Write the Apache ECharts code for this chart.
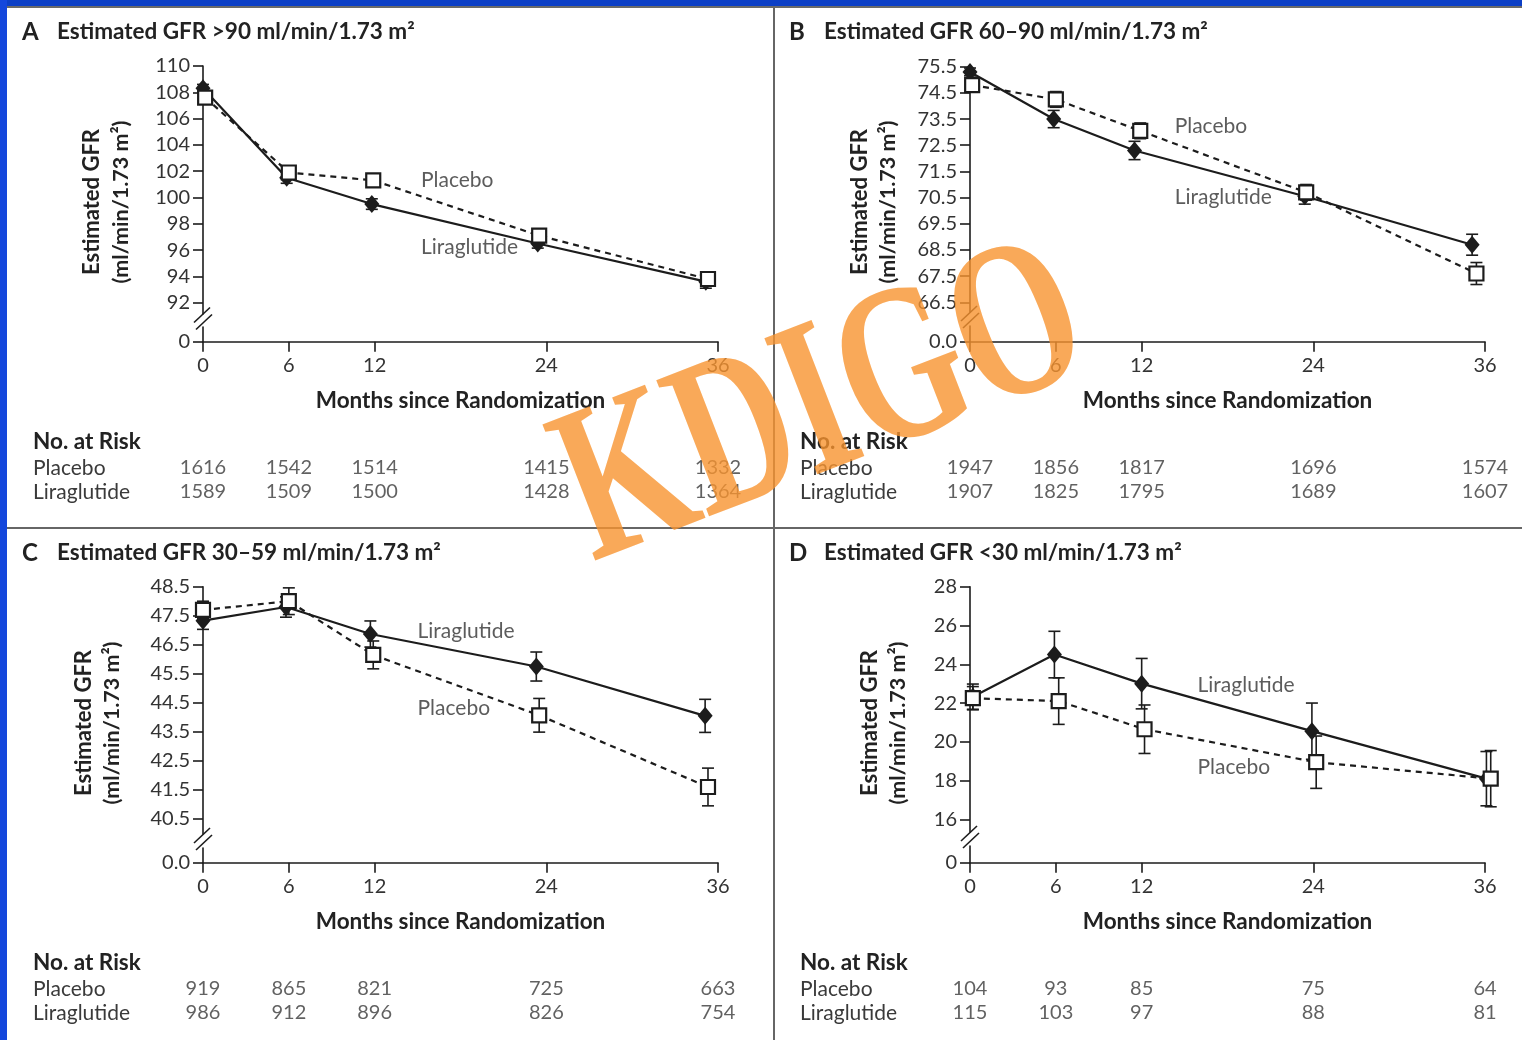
<!DOCTYPE html>
<html><head><meta charset="utf-8">
<script src="https://cdn.jsdelivr.net/npm/echarts@6/dist/echarts.min.js"></script>
<style>html,body{margin:0;padding:0;background:#fff}#c{width:1522px;height:1040px}</style>
</head><body><div id="c"></div>
<script>
// ---------- DATA ----------
const months = [0, 6, 12, 24, 36];
const riskRows = ['Placebo', 'Liraglutide'];

// Panel A
const titleA = 'Estimated GFR >90 ml/min/1.73 m²';
const yTicksA = [92, 94, 96, 98, 100, 102, 104, 106, 108, 110];
const liraXA = [0, 5.85, 11.8, 23.4, 35.15];
const liraA = [108.3, 101.5, 99.5, 96.5, 93.6];
const liraErrA = [0.3, 0.42, 0.4, 0.35, 0.5];
const placXA = [0.15, 6, 11.9, 23.5, 35.3];
const placA = [107.6, 101.9, 101.3, 97.1, 93.8];
const placErrA = [0.3, 0.3, 0.3, 0.3, 0.3];
const riskPlacA = [1616, 1542, 1514, 1415, 1332];
const riskLiraA = [1589, 1509, 1500, 1428, 1364];

// Panel B
const titleB = 'Estimated GFR 60–90 ml/min/1.73 m²';
const yTicksB = [66.5, 67.5, 68.5, 69.5, 70.5, 71.5, 72.5, 73.5, 74.5, 75.5];
const liraXB = [0, 5.85, 11.5, 23.4, 35.1];
const liraB = [75.3, 73.5, 72.3, 70.55, 68.7];
const liraErrB = [0.15, 0.33, 0.35, 0.3, 0.4];
const placXB = [0.15, 6, 11.9, 23.5, 35.4];
const placB = [74.8, 74.25, 73.05, 70.7, 67.6];
const placErrB = [0.2, 0.3, 0.3, 0.3, 0.42];
const riskPlacB = [1947, 1856, 1817, 1696, 1574];
const riskLiraB = [1907, 1825, 1795, 1689, 1607];

// Panel C
const titleC = 'Estimated GFR 30–59 ml/min/1.73 m²';
const yTicksC = [40.5, 41.5, 42.5, 43.5, 44.5, 45.5, 46.5, 47.5, 48.5];
const liraXC = [0, 5.8, 11.7, 23.3, 35.1];
const liraC = [47.33, 47.8, 46.87, 45.75, 44.05];
const liraErrC = [0.3, 0.35, 0.45, 0.5, 0.57];
const placXC = [0, 6, 11.9, 23.5, 35.3];
const placC = [47.7, 48.0, 46.15, 44.07, 41.6];
const placErrC = [0.3, 0.46, 0.48, 0.58, 0.65];
const riskPlacC = [919, 865, 821, 725, 663];
const riskLiraC = [986, 912, 896, 826, 754];

// Panel D
const titleD = 'Estimated GFR <30 ml/min/1.73 m²';
const yTicksD = [16, 18, 20, 22, 24, 26, 28];
const liraXD = [0.2, 5.9, 12, 23.9, 36.1];
const liraD = [22.33, 24.5, 23.0, 20.55, 18.1];
const liraErrD = [0.65, 1.2, 1.3, 1.45, 1.4];
const placXD = [0.2, 6.2, 12.2, 24.2, 36.4];
const placD = [22.25, 22.1, 20.65, 18.95, 18.1];
const placErrD = [0.6, 1.2, 1.25, 1.35, 1.45];
const riskPlacD = [104, 93, 85, 75, 64];
const riskLiraD = [115, 103, 97, 88, 81];

// ---------- LAYOUT / STYLE ----------
const FONT = 'Lato';
const INK = '#1c1c1c';
const TXT = '#333';
const W = 515;

const panels = [
  {letter:'A', title:titleA, ticks:yTicksA, zero:'0', dec:0,
   liraX:liraXA, lira:liraA, liraErr:liraErrA, placX:placXA, plac:placA, placErr:placErrA,
   riskPlac:riskPlacA, riskLira:riskLiraA,
   x0:203, yTop:66, breakTop:314, breakBot:327, yZero:341.7, ymin:91.14, ymax:110,
   titleY:32, riskTop:456, textX:33, ynameX:[92,121], ynameY:202,
   ann:[{name:'Placebo', value:[15.2,101.3]},{name:'Liraglutide', value:[15.2,96.2]}]},
  {letter:'B', title:titleB, ticks:yTicksB, zero:'0.0', dec:1,
   liraX:liraXB, lira:liraB, liraErr:liraErrB, placX:placXB, plac:placB, placErr:placErrB,
   riskPlac:riskPlacB, riskLira:riskLiraB,
   x0:970, yTop:66.7, breakTop:312, breakBot:326, yZero:341.7, ymin:66.13, ymax:75.5,
   titleY:32, riskTop:456, textX:800, ynameX:[860,888], ynameY:202,
   ann:[{name:'Placebo', value:[14.27,73.24]},{name:'Liraglutide', value:[14.27,70.53]}]},
  {letter:'C', title:titleC, ticks:yTicksC, zero:'0.0', dec:1,
   liraX:liraXC, lira:liraC, liraErr:liraErrC, placX:placXC, plac:placC, placErr:placErrC,
   riskPlac:riskPlacC, riskLira:riskLiraC,
   x0:203, yTop:586.7, breakTop:834, breakBot:848, yZero:862.7, ymin:39.98, ymax:48.5,
   titleY:553, riskTop:977, textX:33, ynameX:[84,112], ynameY:723,
   ann:[{name:'Liraglutide', value:[14.96,46.97]},{name:'Placebo', value:[14.96,44.32]}]},
  {letter:'D', title:titleD, ticks:yTicksD, zero:'0', dec:0,
   liraX:liraXD, lira:liraD, liraErr:liraErrD, placX:placXD, plac:placD, placErr:placErrD,
   riskPlac:riskPlacD, riskLira:riskLiraD,
   x0:970, yTop:586.7, breakTop:832, breakBot:846, yZero:862.7, ymin:15.35, ymax:28,
   titleY:553, riskTop:977, textX:800, ynameX:[870,898], ynameY:723,
   ann:[{name:'Liraglutide', value:[15.87,22.93]},{name:'Placebo', value:[15.87,18.7]}]}
];

const grids = [], xAxes = [], yAxes = [], series = [], graphics = [];

function errBars(gi, xs, ys, es) {
  return {
    type:'custom', xAxisIndex:gi, yAxisIndex:gi, clip:false, silent:true, z:2,
    data: xs.map((x,i)=>[x, ys[i], es[i]]),
    renderItem:(params, api)=>{
      const x = api.value(0), y = api.value(1), e = api.value(2);
      const t = api.coord([x, y+e]), b = api.coord([x, y-e]);
      const hw = 6, st = {stroke:INK, lineWidth:1.6};
      return {type:'group', children:[
        {type:'line', shape:{x1:t[0],y1:t[1],x2:b[0],y2:b[1]}, style:st},
        {type:'line', shape:{x1:t[0]-hw,y1:t[1],x2:t[0]+hw,y2:t[1]}, style:st},
        {type:'line', shape:{x1:b[0]-hw,y1:b[1],x2:b[0]+hw,y2:b[1]}, style:st}
      ]};
    }
  };
}

panels.forEach(p=>{
  const g = grids.length;
  grids.push({left:p.x0, top:p.yTop, width:W, height:p.breakTop-p.yTop});
  grids.push({left:p.x0, top:p.breakBot, width:W, height:p.yZero-p.breakBot});
  grids.push({left:p.x0, top:p.riskTop, width:W, height:48});

  const axLine = {show:true, lineStyle:{color:INK, width:1.6}};
  const tick = {show:true, length:10, inside:false, lineStyle:{color:INK, width:1.6}};
  const lbl = {color:TXT, fontFamily:FONT, fontSize:20};

  xAxes.push({gridIndex:g, type:'value', min:0, max:36, show:false});
  xAxes.push({gridIndex:g+1, type:'value', min:0, max:36,
    axisLine:axLine, axisTick:Object.assign({}, tick, {customValues:months}),
    axisLabel:Object.assign({}, lbl, {customValues:months, margin:14, formatter:v=>String(v)}),
    splitLine:{show:false},
    name:'Months since Randomization', nameLocation:'middle', nameGap:48,
    nameTextStyle:{color:'#222', fontFamily:FONT, fontSize:22.5, fontWeight:'bold'}});
  xAxes.push({gridIndex:g+2, type:'value', min:0, max:36, show:false});

  yAxes.push({gridIndex:g, type:'value', min:p.ymin, max:p.ymax,
    axisLine:axLine, axisTick:Object.assign({}, tick, {customValues:p.ticks}),
    axisLabel:Object.assign({}, lbl, {customValues:p.ticks, margin:13, formatter:v=>v.toFixed(p.dec)}),
    splitLine:{show:false}});
  yAxes.push({gridIndex:g+1, type:'value', min:0, max:1,
    axisLine:axLine, axisTick:Object.assign({}, tick, {customValues:[0]}),
    axisLabel:Object.assign({}, lbl, {customValues:[0], margin:13, formatter:()=>p.zero}),
    splitLine:{show:false}});
  yAxes.push({gridIndex:g+2, type:'category', data:riskRows, inverse:true,
    axisLine:{show:false}, axisTick:{show:false}, splitLine:{show:false},
    axisLabel:{interval:0, hideOverlap:false, color:'#3a3a3a', fontFamily:FONT, fontSize:21, align:'left', margin:p.x0-p.textX}});

  series.push(errBars(g, p.liraX, p.lira, p.liraErr));
  series.push(errBars(g, p.placX, p.plac, p.placErr));
  series.push({type:'line', xAxisIndex:g, yAxisIndex:g, clip:false, z:3, silent:true,
    data:p.liraX.map((x,i)=>[x, p.lira[i]]),
    symbol:'diamond', symbolSize:[15,18], itemStyle:{color:INK},
    lineStyle:{color:INK, width:2.2}});
  series.push({type:'line', xAxisIndex:g, yAxisIndex:g, clip:false, z:4, silent:true,
    data:p.placX.map((x,i)=>[x, p.plac[i]]),
    symbol:'rect', symbolSize:14, itemStyle:{color:'#fff', borderColor:INK, borderWidth:2.2},
    lineStyle:{color:INK, width:2.2, type:[6,5]}});
  series.push({type:'scatter', xAxisIndex:g, yAxisIndex:g, silent:true, z:5,
    data:p.ann, symbolSize:1, itemStyle:{color:'transparent'},
    label:{show:true, position:'right', distance:0, formatter:'{b}', color:'#333', fontFamily:FONT, fontSize:21}});
  const risk = [];
  months.forEach((m,i)=>{ risk.push([m, riskRows[0], p.riskPlac[i]]); risk.push([m, riskRows[1], p.riskLira[i]]); });
  series.push({type:'scatter', xAxisIndex:g+2, yAxisIndex:g+2, silent:true,
    data:risk, symbolSize:1, itemStyle:{color:'transparent'},
    label:{show:true, position:'inside', formatter:q=>String(q.value[2]), color:'#3a3a3a', fontFamily:FONT, fontSize:20}});

  // titles
  graphics.push({type:'text', x:p.textX-11, y:p.titleY, style:{text:p.letter, font:'bold 24px '+FONT, fill:'#222', textVerticalAlign:'middle'}});
  graphics.push({type:'text', x:p.textX+24, y:p.titleY, style:{text:p.title, font:'bold 22.5px '+FONT, fill:'#222', textVerticalAlign:'middle'}});
  // y names
  graphics.push({type:'text', x:p.ynameX[0], y:p.ynameY, rotation:Math.PI/2,
    style:{text:'Estimated GFR', font:'bold 22px '+FONT, fill:'#222', textAlign:'center', textVerticalAlign:'middle'}});
  graphics.push({type:'text', x:p.ynameX[1], y:p.ynameY, rotation:Math.PI/2,
    style:{text:'(ml/min/1.73 m²)', font:'bold 21.5px '+FONT, fill:'#222', textAlign:'center', textVerticalAlign:'middle'}});
  // no. at risk
  graphics.push({type:'text', x:p.textX, y:p.riskTop-14, style:{text:'No. at Risk', font:'bold 22.5px '+FONT, fill:'#222', textVerticalAlign:'middle'}});
  // break marks
  const yc = (p.breakTop + p.breakBot)/2 - 1;
  graphics.push({type:'line', shape:{x1:p.x0-9, y1:yc+3, x2:p.x0+7, y2:yc-12}, style:{stroke:INK, lineWidth:1.6}});
  graphics.push({type:'line', shape:{x1:p.x0-7, y1:yc+10, x2:p.x0+9, y2:yc-5}, style:{stroke:INK, lineWidth:1.6}});
});

// frame
graphics.unshift(
  {type:'rect', shape:{x:0,y:0,width:1522,height:6}, style:{fill:'#0c3fc6'}, z:-1},
  {type:'rect', shape:{x:0,y:6,width:1522,height:2}, style:{fill:'#6a6a6a'}, z:-1},
  {type:'rect', shape:{x:0,y:0,width:7,height:1040}, style:{fill:'#1447dc'}, z:-1},
  {type:'rect', shape:{x:773,y:8,width:2,height:1032}, style:{fill:'#666'}, z:-1},
  {type:'rect', shape:{x:7,y:527,width:1515,height:2}, style:{fill:'#666'}, z:-1}
);
// watermark
graphics.push({type:'text', x:824, y:410, rotation:0.37, scaleY:1.42, z:100, silent:true,
  style:{text:'KDIGO', font:'bold 157px "Liberation Serif"', fill:'rgba(248,148,48,0.8)', textAlign:'center', textVerticalAlign:'middle'}});

const chart = echarts.init(document.getElementById('c'), null, {renderer:'canvas'});
chart.setOption({
  animation:false,
  backgroundColor:'#fff',
  grid:grids, xAxis:xAxes, yAxis:yAxes, series:series,
  graphic:{elements:graphics}
});
</script></body></html>
